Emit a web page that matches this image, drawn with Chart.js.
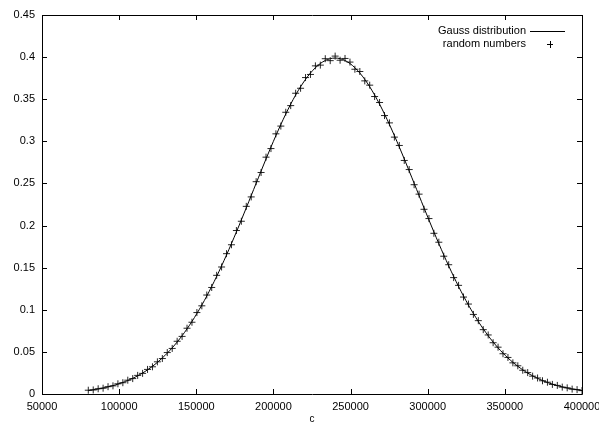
<!DOCTYPE html>
<html>
<head>
<meta charset="utf-8">
<script src="https://cdn.jsdelivr.net/npm/chart.js@4/dist/chart.umd.min.js"></script>
<style>
html,body{margin:0;padding:0;background:#fff;}
#wrap{width:599px;height:427px;position:relative;}
</style>
</head>
<body>
<div id="wrap"><canvas id="c" width="599" height="427"></canvas></div>
<script>
// x positions (c)
const cValues = [80000, 83200, 86400, 89600, 92800, 96000, 99200, 102400, 105600, 108800,
  112000, 115200, 118400, 121600, 124800, 128000, 131200, 134400, 137600, 140800,
  144000, 147200, 150400, 153600, 156800, 160000, 163200, 166400, 169600, 172800,
  176000, 179200, 182400, 185600, 188800, 192000, 195200, 198400, 201600, 204800,
  208000, 211200, 214400, 217600, 220800, 224000, 227200, 230400, 233600, 236800,
  240000, 243200, 246400, 249600, 252800, 256000, 259200, 262400, 265600, 268800,
  272000, 275200, 278400, 281600, 284800, 288000, 291200, 294400, 297600, 300800,
  304000, 307200, 310400, 313600, 316800, 320000, 323200, 326400, 329600, 332800,
  336000, 339200, 342400, 345600, 348800, 352000, 355200, 358400, 361600, 364800,
  368000, 371200, 374400, 377600, 380800, 384000, 387200, 390400, 393600, 396800, 400000];

// Gauss distribution curve values
const gaussValues = [0.00418, 0.00501, 0.00598, 0.00712, 0.00843, 0.00996, 0.0117, 0.0137, 0.0160, 0.0186,
  0.0216, 0.0249, 0.0287, 0.0329, 0.0376, 0.0428, 0.0485, 0.0548, 0.0617, 0.0692,
  0.0773, 0.0861, 0.0956, 0.1056, 0.1163, 0.1277, 0.1396, 0.1521, 0.1651, 0.1786,
  0.1924, 0.2066, 0.2210, 0.2356, 0.2502, 0.2647, 0.2791, 0.2932, 0.3068, 0.3200,
  0.3324, 0.3442, 0.3550, 0.3648, 0.3736, 0.3811, 0.3874, 0.3924, 0.3960, 0.3982,
  0.3989,
  0.3982, 0.3960, 0.3924, 0.3874, 0.3811, 0.3736, 0.3648, 0.3550, 0.3442, 0.3324,
  0.3200, 0.3068, 0.2932, 0.2791, 0.2647, 0.2502, 0.2356, 0.2210, 0.2066, 0.1924,
  0.1786, 0.1651, 0.1521, 0.1396, 0.1277, 0.1163, 0.1056, 0.0956, 0.0861, 0.0773,
  0.0692, 0.0617, 0.0548, 0.0485, 0.0428, 0.0376, 0.0329, 0.0287, 0.0249, 0.0216,
  0.0186, 0.0160, 0.0137, 0.0117, 0.00996, 0.00843, 0.00712, 0.00598, 0.00501, 0.00418];

// random numbers (histogram points, '+' markers)
const randomValues = [0.0045, 0.0048, 0.0062, 0.0069, 0.0087, 0.0097, 0.0121, 0.0134, 0.0164, 0.0183,
  0.0221, 0.0245, 0.0292, 0.0323, 0.0382, 0.0421, 0.0492, 0.0541, 0.0626, 0.0684,
  0.0781, 0.0852, 0.0967, 0.1047, 0.1175, 0.1265, 0.1409, 0.1508, 0.1666, 0.1772,
  0.1941, 0.2051, 0.2228, 0.2340, 0.2521, 0.2630, 0.2812, 0.2914, 0.3089, 0.3181,
  0.3345, 0.3424, 0.3571, 0.3630, 0.3757, 0.3794, 0.3896, 0.3905, 0.3981, 0.3958,
  0.4012,
  0.3963, 0.3984, 0.3941, 0.3856, 0.3829, 0.3718, 0.3667, 0.3532, 0.3461, 0.3306,
  0.3219, 0.3050, 0.2951, 0.2773, 0.2665, 0.2485, 0.2373, 0.2193, 0.2083, 0.1908,
  0.1802, 0.1636, 0.1535, 0.1382, 0.1290, 0.1151, 0.1068, 0.0945, 0.0871, 0.0764,
  0.0701, 0.0609, 0.0556, 0.0478, 0.0434, 0.0370, 0.0335, 0.0282, 0.0254, 0.0212,
  0.0190, 0.0157, 0.0140, 0.0114, 0.0102, 0.0082, 0.0073, 0.0058, 0.0052, 0.0040];

const xTicks = [50000, 100000, 150000, 200000, 250000, 300000, 350000, 400000];
const yTicks = [0, 0.05, 0.1, 0.15, 0.2, 0.25, 0.3, 0.35, 0.4, 0.45];
const seriesNames = ['Gauss distribution', 'random numbers'];
const axisTitle = 'c';

const FONT = '"Liberation Sans", Arial, Helvetica, sans-serif';

const framePlugin = {
  id: 'frame',
  afterDraw(chart) {
    const ctx = chart.ctx;
    const a = chart.chartArea;
    const xs = chart.scales.x, ys = chart.scales.y;
    ctx.save();
    ctx.strokeStyle = '#000';
    ctx.lineWidth = 1;
    ctx.beginPath();
    ctx.rect(Math.round(a.left) + 0.5, Math.round(a.top) + 0.5,
             Math.round(a.right - a.left), Math.round(a.bottom - a.top));
    ctx.stroke();
    const tl = 5;
    ctx.beginPath();
    xTicks.forEach(v => {
      const px = Math.round(xs.getPixelForValue(v)) + 0.5;
      ctx.moveTo(px, a.bottom); ctx.lineTo(px, a.bottom - tl);
      ctx.moveTo(px, a.top); ctx.lineTo(px, a.top + tl);
    });
    yTicks.forEach(v => {
      const py = Math.round(ys.getPixelForValue(v)) + 0.5;
      ctx.moveTo(a.left, py); ctx.lineTo(a.left + tl, py);
      ctx.moveTo(a.right, py); ctx.lineTo(a.right - tl, py);
    });
    ctx.stroke();
    // key
    ctx.fillStyle = '#000';
    ctx.font = '11px ' + FONT;
    ctx.textAlign = 'right';
    ctx.textBaseline = 'middle';
    const kx = 526;
    const y1 = a.top + 16, y2 = a.top + 29;
    ctx.fillText(seriesNames[0], kx, y1);
    ctx.fillText(seriesNames[1], kx, y2);
    ctx.beginPath();
    ctx.moveTo(530, Math.round(y1) + 0.5); ctx.lineTo(565, Math.round(y1) + 0.5);
    const cx = 550, cy = Math.round(y2) + 0.5;
    ctx.moveTo(cx - 3, cy); ctx.lineTo(cx + 3, cy);
    ctx.moveTo(cx + 0.5, cy - 3.5); ctx.lineTo(cx + 0.5, cy + 3.5);
    ctx.stroke();
    ctx.restore();
  }
};

new Chart(document.getElementById('c'), {
  type: 'scatter',
  data: {
    datasets: [
      {
        label: seriesNames[0],
        type: 'line',
        data: cValues.map((x, i) => ({x: x, y: gaussValues[i]})),
        borderColor: '#000',
        borderWidth: 1,
        pointRadius: 0,
        tension: 0.3,
        fill: false
      },
      {
        label: seriesNames[1],
        data: cValues.map((x, i) => ({x: x, y: randomValues[i]})),
        pointStyle: 'cross',
        pointRadius: 3.5,
        borderColor: 'rgba(0,0,0,0.85)',
        backgroundColor: 'rgba(0,0,0,0.85)',
        pointBorderWidth: 1
      }
    ]
  },
  options: {
    responsive: false,
    animation: false,
    devicePixelRatio: 1,
    layout: { padding: { top: 15, right: 17, left: 0, bottom: 0 } },
    plugins: { legend: { display: false }, tooltip: { enabled: false } },
    scales: {
      x: {
        type: 'linear',
        min: 50000, max: 400000,
        afterBuildTicks(scale) { scale.ticks = xTicks.map(v => ({value: v})); },
        afterFit(scale) { scale.height = 33; scale.paddingLeft = 0; scale.paddingRight = 0; },
        grid: { display: false, drawTicks: false },
        border: { display: false },
        ticks: {
          color: '#000', padding: 6, maxRotation: 0, autoSkip: false,
          font: { family: FONT, size: 11 },
          callback: v => String(v)
        },
        title: {
          display: true, text: axisTitle, color: '#000',
          font: { family: FONT, size: 10 },
          padding: { top: 2, bottom: 2 }
        }
      },
      y: {
        type: 'linear',
        min: 0, max: 0.45,
        afterBuildTicks(scale) { scale.ticks = yTicks.map(v => ({value: v})); },
        afterFit(scale) { scale.width = 42; scale.paddingTop = 0; scale.paddingBottom = 0; },
        grid: { display: false, drawTicks: false },
        border: { display: false },
        ticks: {
          color: '#000', padding: 7, autoSkip: false,
          font: { family: FONT, size: 11 },
          callback: v => String(v)
        }
      }
    }
  },
  plugins: [framePlugin]
});
</script>
</body>
</html>
